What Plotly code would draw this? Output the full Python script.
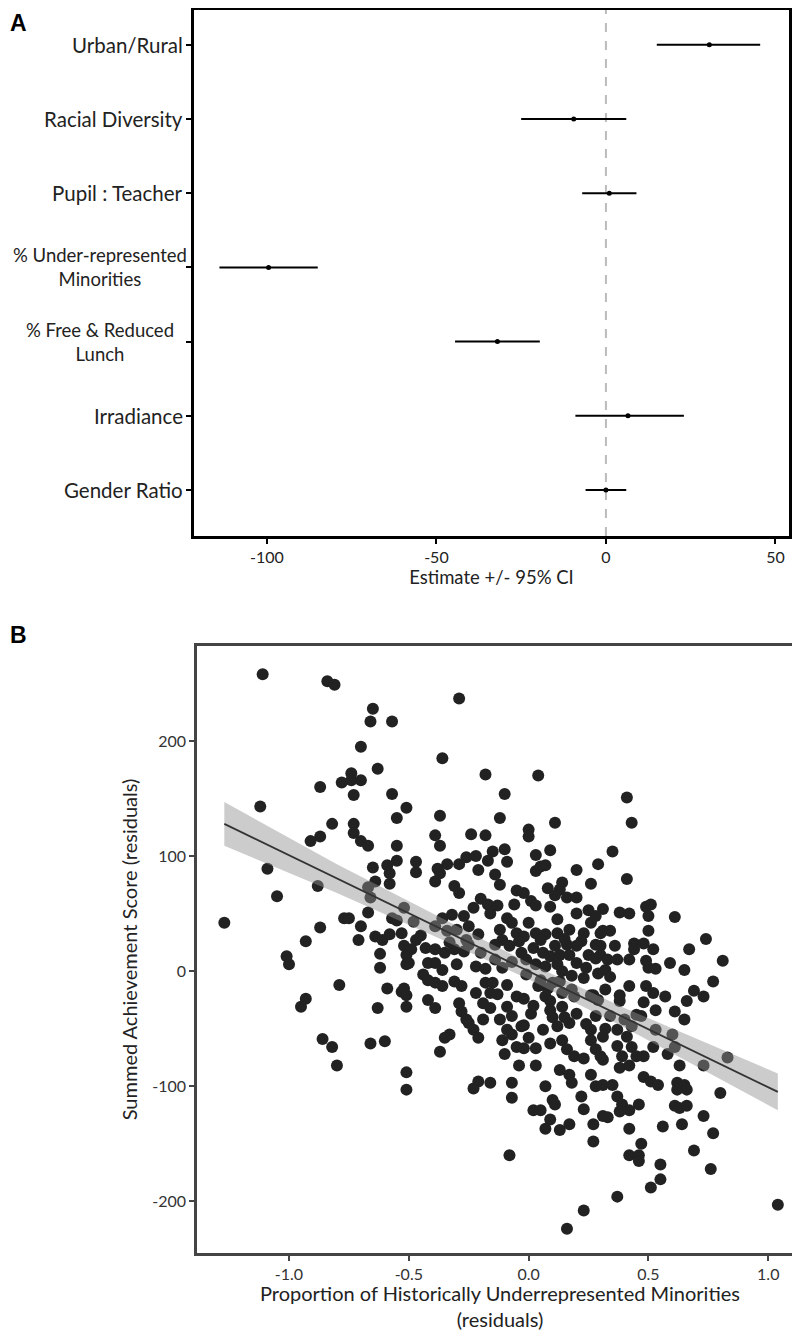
import plotly.graph_objects as go

# ---------------- Panel A data ----------------
cats = ["Urban/Rural", "Racial Diversity", "Pupil : Teacher",
        "% Under-represented<br>Minorities", "% Free & Reduced<br>Lunch",
        "Irradiance", "Gender Ratio"]
est = [30.5, -9.5, 1.0, -99.5, -32.0, 6.5, 0.0]
ci_lo = [15.0, -25.0, -7.0, -114.0, -44.5, -9.0, -6.0]
ci_hi = [45.5, 6.0, 9.0, -85.0, -19.5, 23.0, 6.0]
a_ticks = [-100, -50, 0, 50]
a_ticktext = ["-100", "-50", "0", "50"]

# ---------------- Panel B data ----------------
bx = [
 -1.11, -0.84, -0.81, -0.65, -0.66, -0.57, -0.70, -0.63, -0.74, -0.78, -0.74, -0.70, -0.87, -0.73, -0.57,
 -0.51, -1.12, -0.55, -0.82, -0.73, -0.73, -0.87, -0.91, -0.70, -0.67, -0.55, -0.55, -0.59, -0.65, -0.58,
 -1.09, -0.64, -0.58, -0.88, -0.67,
 -0.29, -0.36, -0.18, 0.04, -0.10, -0.37, -0.12, 0.11, 0.00, 0.00, -0.39, -0.24, -0.18, -0.37, -0.15,
 -0.10, 0.09, -0.26, -0.22, -0.17, -0.29, -0.34, -0.09, 0.03, -0.47, -0.47, -0.38, -0.37, -0.21, 0.03,
 0.05, 0.07, -0.14, 0.20, 0.29, 0.26, -0.39, -0.31, -0.12, -0.05, 0.08, 0.14,
 0.41, 0.43, 0.35, 0.41,
 -1.05, -1.27, -0.66, -0.67, -0.77, -0.75, -0.70, -0.57, -0.55, -0.52, -0.87, -0.71, -0.64, -0.61, -0.58,
 -0.53, -0.93, -0.52, -1.01, -1.00, -0.62, -0.62, -0.51, -0.79, -0.59, -0.53, -0.52, -0.93, -0.95, -0.63,
 -0.51, -0.86, -0.82, -0.80, -0.66, -0.60, -0.51, -0.51,
 -0.07, 0.02, 0.05, 0.10, 0.11, 0.09, 0.07, 0.13, 0.17, 0.22, 0.23, 0.27, 0.27, -0.08, 0.23, 0.16, 0.31,
 0.37, 0.39, 0.38, 0.42, 0.46, 0.33, 0.42, 0.47, 0.42, 0.46, 0.46, 0.56, 0.61, 0.63, 0.66, 0.64, 0.73,
 0.77, 0.69, 0.76, 0.55, 0.55, 0.51, 0.37, 1.04,
 0.31, 0.38, 0.42, 0.49, 0.51, 0.50, 0.61, 0.31, 0.34, 0.50, 0.74, 0.67, 0.81, 0.30, 0.36, 0.44, 0.48,
 0.44, 0.52, 0.30, 0.33, 0.37, 0.42, 0.49, 0.50, 0.53, 0.59, 0.65, 0.32, 0.34, 0.77, 0.42, 0.49, 0.52,
 0.57, 0.69, 0.73, 0.66, 0.32, 0.38, 0.38, 0.48, 0.53, 0.61, 0.65, 0.45, 0.47, 0.34, 0.40, 0.43, 0.53,
 0.60, 0.61, 0.58, 0.32, 0.37, 0.31, 0.41, 0.37, 0.43, 0.52, 0.39, 0.45, 0.48, 0.42, 0.38, 0.31, 0.83,
 0.73, 0.63, 0.48, 0.51, 0.54, 0.31, 0.35, 0.62, 0.65, 0.62, 0.66, 0.80,
 -0.29, -0.02, 0.13, 0.11, 0.16, 0.20, 0.01, 0.03, 0.09, -0.20, -0.17, -0.23, -0.27, -0.32, -0.36, -0.16,
 -0.09, -0.07, 0.00, 0.12, 0.20, 0.25, 0.28, -0.48, -0.47, -0.43, -0.39, -0.35, -0.31, -0.27, -0.39,
 -0.34, -0.30, -0.25, -0.21, -0.25, -0.12, -0.11, -0.05, -0.02, 0.03, 0.07, 0.12, 0.17, 0.23, 0.26,
 0.30, -0.08, -0.03, 0.02, 0.06, 0.11, 0.16, 0.20, 0.28, 0.09, 0.13, 0.17, 0.25, 0.28, -0.14, -0.20,
 -0.51, -0.50, -0.42, -0.39, -0.36, -0.30, -0.11, -0.07, -0.01, 0.03, 0.07, 0.12, 0.14, 0.20, 0.23,
 0.29, 0.05, 0.10, 0.13, -0.42, -0.39, -0.36, -0.31, -0.28, -0.18, -0.15, -0.09, -0.51, -0.16, -0.05,
 -0.02, 0.07, 0.09, 0.14, 0.18, 0.26, 0.29, -0.42, -0.39, -0.29, -0.28, -0.19, -0.16, -0.09, 0.09,
 0.14, 0.20, 0.28, 0.01, -0.07, -0.19, -0.12, -0.25, -0.23, -0.02, 0.06, 0.12, 0.17, 0.26, -0.09,
 -0.33, -0.35, -0.21, -0.11, -0.07, 0.00, 0.09, 0.14, 0.26, -0.37, -0.05, -0.02, 0.03, 0.16, 0.19,
 0.23, 0.28, 0.30, -0.04, 0.03, 0.13, 0.26, 0.17, -0.21, -0.23, -0.16, -0.07, 0.07, 0.18, 0.28,
 -0.49, -0.45, -0.44, -0.33, -0.26, -0.22, -0.18, -0.14, -0.04, 0.05, 0.15, 0.22, 0.24, 0.18, 0.08,
 0.04, -0.01, -0.06, -0.13, -0.22, -0.26, -0.13, 0.10, 0.19, 0.27, 0.24, 0.15, 0.02, -0.03, -0.10,
]
by = [
 258, 252, 249, 228, 217, 217, 195, 176, 172, 164, 166, 166, 160, 153, 154,
 142, 143, 133, 128, 128, 120, 117, 113, 113, 109, 109, 96, 92, 90, 85,
 89, 78, 76, 74, 73,
 237, 185, 171, 170, 154, 135, 133, 129, 123, 117, 118, 119, 118, 109, 104,
 106, 105, 99, 100, 96, 93, 93, 95, 101, 95, 86, 89, 85, 88, 87,
 91, 92, 84, 88, 93, 76, 78, 74, 75, 70, 72, 77,
 151, 129, 104, 80,
 65, 42, 64, 51, 46, 46, 39, 46, 44, 55, 38, 27, 30, 27, 32,
 33, 26, 22, 13, 6, 15, 3, 6, -12, -15, -18, -15, -24, -31, -32,
 -31, -59, -66, -82, -63, -61, -88, -103,
 -110, -121, -121, -112, -116, -129, -137, -138, -133, -109, -120, -133, -148, -160, -208, -224, -126,
 -109, -116, -122, -121, -116, -127, -137, -150, -160, -160, -165, -135, -117, -119, -117, -133, -126,
 -141, -156, -172, -168, -181, -188, -196, -203,
 54, 51, 50, 56, 58, 48, 47, 35, 35, 35, 28, 19, 9, 22, 22, 24, 24,
 19, 19, 14, 10, 10, 10, 9, 3, 2, 7, 1, 1, -5, -9, -13, -13, -19,
 -22, -17, -22, -26, -16, -21, -26, -27, -34, -35, -42, -38, -39, -39, -42, -48, -51,
 -55, -66, -72, -50, -51, -57, -57, -65, -66, -66, -74, -74, -74, -82, -84, -77, -75,
 -82, -82, -92, -96, -99, -99, -99, -97, -99, -103, -103, -106,
 68, 68, 71, 66, 64, 64, 61, 57, 56, 63, 58, 55, 48, 49, 46, 50,
 46, 42, 42, 45, 50, 53, 48, 43, 27, 20, 19, 16, 19, 17, 39,
 35, 36, 39, 32, 23, 36, 27, 33, 30, 33, 32, 33, 36, 33, 42,
 33, 22, 16, 20, 16, 22, 23, 22, 23, 13, 14, 14, 14, 11, 10, 16,
 14, 7, 7, 7, 1, 6, 3, 8, 10, 6, 4, 6, 0, 7, -6,
 -2, -8, -10, -9, -8, -10, -13, -9, -13, -10, -10, -12, -21, -19, -22,
 -24, -22, -26, -19, -16, -21, -25, -25, -32, -28, -35, -28, -32, -31, -34,
 -31, -37, -39, -37, -39, -42, -42, -45, -51, -47, -51, -48, -45, -51, -51,
 -55, -58, -58, -60, -55, -58, -63, -60, -60, -70, -66, -67, -67, -68, -74,
 -76, -68, -74, -82, -82, -86, -90, -90, -96, -102, -97, -97, -100, -97, -100,
 19, 31, -3, 25, 27, 4, 2, 23, 26, 27, 28, 26, 3, -4, -15,
 -13, -3, 58, 57, -19, -42, -20, -40, -22, -21, -46, -40, -30, -48, -72,
]

# regression line and 95% band
reg_x = [-1.27, 1.04]
reg_y = [128, -105]
band_x = [-1.27, -0.8, -0.4, 0.0, 0.4, 0.8, 1.04]
band_lo = [109, 68, 31, -7, -49, -94, -121]
band_hi = [147, 93, 50, 7, -32, -68, -89]

b_xticks = [-1.0, -0.5, 0.0, 0.5, 1.0]
b_xticktext = ["-1.0", "-0.5", "0.0", "0.5", "1.0"]
b_yticks = [-200, -100, 0, 100, 200]
b_yticktext = ["-200", "-100", "0", "100", "200"]
b_xtitle = "Proportion of Historically Underrepresented Minorities<br>(residuals)"
b_ytitle = "Summed Achievement Score (residuals)"
a_xtitle = "Estimate +/- 95% CI"

FONT = "Lato"
W, H = 800, 1330

fig = go.Figure()

# Panel A
fig.add_trace(go.Scatter(
    x=est, y=cats, mode="markers",
    marker=dict(color="black", size=5),
    error_x=dict(type="data", symmetric=False,
                 array=[h - e for h, e in zip(ci_hi, est)],
                 arrayminus=[e - l for e, l in zip(est, ci_lo)],
                 width=0, thickness=2, color="black"),
    xaxis="x", yaxis="y", showlegend=False, hoverinfo="skip"))

# Panel B
fig.add_trace(go.Scatter(
    x=bx, y=by, mode="markers",
    marker=dict(color="#222222", size=12, line=dict(width=0)),
    xaxis="x2", yaxis="y2", showlegend=False, hoverinfo="skip"))
fig.add_trace(go.Scatter(
    x=band_x + band_x[::-1], y=band_hi + band_lo[::-1],
    fill="toself", fillcolor="rgba(144,144,144,0.46)",
    line=dict(width=0), mode="lines",
    xaxis="x2", yaxis="y2", showlegend=False, hoverinfo="skip"))
fig.add_trace(go.Scatter(
    x=reg_x, y=reg_y, mode="lines", line=dict(color="#333333", width=1.8),
    xaxis="x2", yaxis="y2", showlegend=False, hoverinfo="skip"))

def px_x(p):
    return p / W

def px_y(p):
    return 1 - p / H

axis_common = dict(showgrid=False, zeroline=False, showline=True, mirror=True,
                   ticks="outside", ticklen=5, tickwidth=1.5)

B_LEFT, B_RIGHT = 189, 795

fig.update_layout(
    width=W, height=H, margin=dict(l=0, r=0, t=0, b=0),
    paper_bgcolor="white", plot_bgcolor="white",
    font=dict(family=FONT, color="#222222"),
    xaxis=dict(domain=[px_x(186), px_x(781)], anchor="y", range=[-121.5, 54.0],
               tickvals=a_ticks, ticktext=a_ticktext, tickfont=dict(size=16),
               linecolor="black", linewidth=2.5, tickcolor="black",
               title=dict(text=a_xtitle, font=dict(size=18.5), standoff=3),
               **axis_common),
    yaxis=dict(domain=[px_y(528), px_y(2)], anchor="x", type="category",
               categoryorder="array", categoryarray=cats, range=[6.62, -0.47],
               showticklabels=False, linecolor="black", linewidth=2.5, tickcolor="black",
               **axis_common),
    xaxis2=dict(domain=[px_x(B_LEFT), px_x(B_RIGHT)], anchor="y2", range=[-1.384, 1.145],
                tickvals=b_xticks, ticktext=b_xticktext, tickfont=dict(size=16, color="#333333"),
                linecolor="#444444", linewidth=2.5, tickcolor="#444444",
                **axis_common),
    yaxis2=dict(domain=[px_y(1245), px_y(638)], anchor="x2", range=[-245, 282.6],
                tickvals=b_yticks, ticktext=b_yticktext, tickfont=dict(size=16, color="#333333"),
                linecolor="#444444", linewidth=2.5, tickcolor="#444444",
                title=dict(text=b_ytitle, font=dict(size=20), standoff=10),
                **axis_common),
    shapes=[dict(type="line", xref="x", yref="y domain", x0=0, x1=0, y0=0, y1=1,
                 line=dict(color="#bbbbbb", width=2, dash="dash"), layer="below")],
)

annotations = [
    dict(text="<b>A</b>", x=0, y=1, xref="paper", yref="paper",
         xanchor="left", yanchor="top", showarrow=False,
         font=dict(family="Liberation Sans", size=23, color="black")),
    dict(text="<b>B</b>", x=0, y=px_y(612), xref="paper", yref="paper",
         xanchor="left", yanchor="top", showarrow=False,
         font=dict(family="Liberation Sans", size=23, color="black")),
    dict(text=b_xtitle, x=px_x((B_LEFT + B_RIGHT) / 2), y=px_y(1298), xref="paper", yref="paper",
         xanchor="center", yanchor="middle", align="center", showarrow=False,
         font=dict(size=20, color="#222222")),
]
for c in cats:
    if "<br>" in c:
        annotations.append(dict(text=c, x=px_x(92), y=c, xref="paper", yref="y",
                                xanchor="center", yanchor="middle", align="center",
                                showarrow=False, font=dict(size=18.5, color="#222222")))
    else:
        annotations.append(dict(text=c, x=px_x(177), y=c, xref="paper", yref="y",
                                xanchor="right", yanchor="middle", align="right",
                                showarrow=False, font=dict(size=20.5, color="#222222")))
fig.update_layout(annotations=annotations)

fig.write_html("out.html")
